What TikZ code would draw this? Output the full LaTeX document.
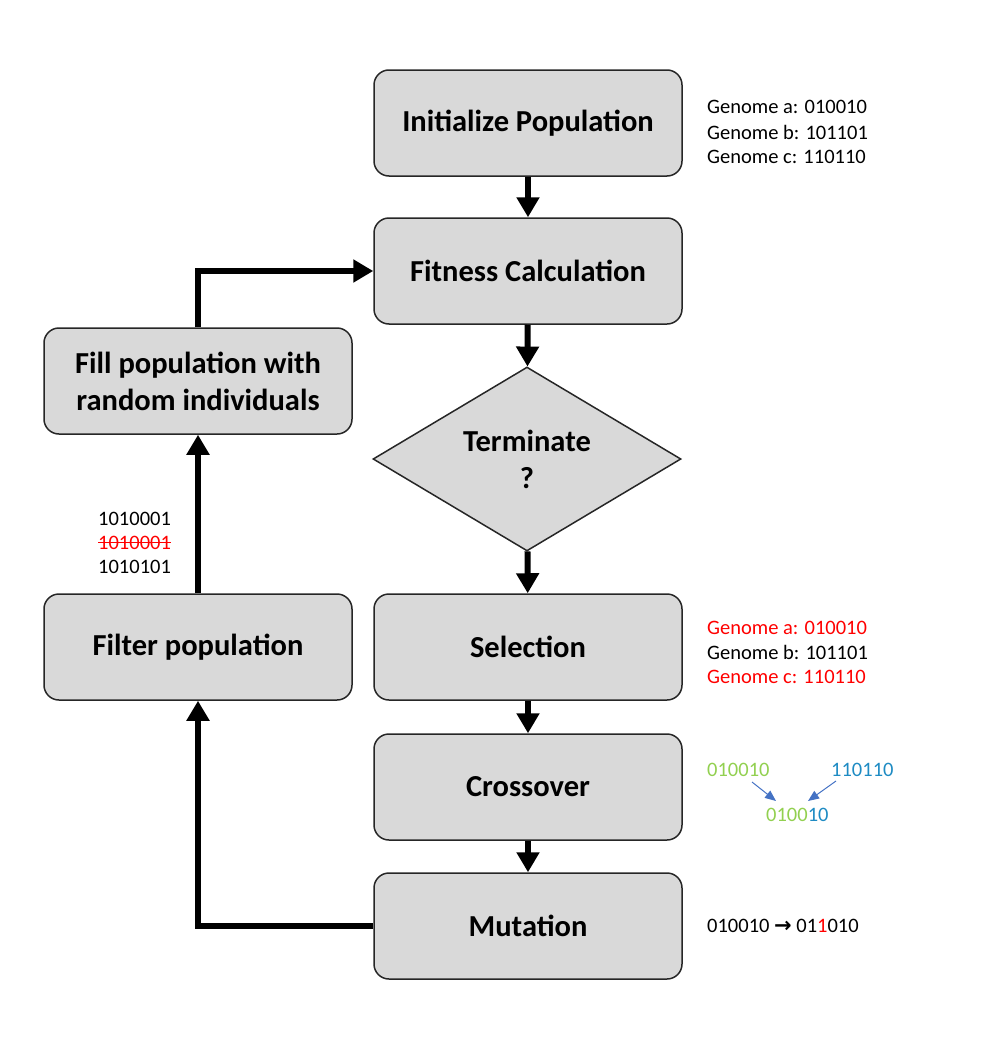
\documentclass[tikz,border=0pt]{standalone}
\usepackage{fontspec}
\setmainfont{Carlito}
\newfontfamily\arrowfont{DejaVu Sans}
\usetikzlibrary{arrows.meta,shapes.geometric}
\definecolor{boxfill}{RGB}{217,217,217}
\definecolor{gtxt}{RGB}{146,208,80}
\definecolor{btxt}{RGB}{30,139,195}
\definecolor{barr}{RGB}{68,114,196}
\definecolor{rtxt}{RGB}{255,0,0}
\tikzset{
  stepbox/.style={draw=black!85, line width=1.5pt, fill=boxfill, rounded corners=15pt,
    minimum width=308pt, minimum height=106pt, align=center, inner sep=0pt,
    font=\fontsize{30.5}{37}\selectfont\bfseries},
  decbox/.style={draw=black!85, line width=1.5pt, fill=boxfill, diamond, aspect=1.674,
    minimum width=308pt, minimum height=184pt, align=center, inner sep=0pt,
    font=\fontsize{30.5}{37}\selectfont\bfseries},
  flow/.style={line width=6pt, -{Triangle[width=22pt,length=20pt]}},
  note/.style={anchor=west, inner sep=0pt, font=\fontsize{20.5}{24}\selectfont},
  thin arr/.style={draw=barr, line width=1pt, -{Triangle[width=9pt,length=11pt]}}
}
\begin{document}
\begin{tikzpicture}[x=1pt,y=-1pt]
\useasboundingbox (0,0) rectangle (982,1060);
\node[stepbox] (init) at (528,123) {Initialize Population};
\node[stepbox] (fit) at (528,271) {Fitness Calculation};
\node[decbox] (term) at (527,459) {Terminate\\?};
\node[stepbox] (sel) at (528,647) {Selection};
\node[stepbox] (cross) at (528,787) {Crossover};
\node[stepbox] (mut) at (528,926) {Mutation};
\node[stepbox] (fill) at (198,381) {Fill population with\\random individuals};
\node[stepbox] (filt) at (198,647) {Filter population};

\draw[flow] (init) -- (fit);
\draw[flow] (fit) -- (term);
\draw[flow] (term) -- (sel);
\draw[flow] (sel) -- (cross);
\draw[flow] (cross) -- (mut);
\draw[flow] (mut.west) -| (filt.south);
\draw[flow] (filt.north) -- (fill.south);
\draw[flow] (fill.north) |- (fit.west);

\node[note] (ga) at (707,107) {Genome a: 010010};
\node[note] (gb) at (707,132) {Genome b: 101101};
\node[note] (gc) at (707,157) {Genome c: 110110};

\node[note, text=rtxt] (sa) at (707,628) {Genome a: 010010};
\node[note] (sb) at (707,652) {Genome b: 101101};
\node[note, text=rtxt] (sc) at (707,677) {Genome c: 110110};

\node[note, text=gtxt] (c1) at (707,770) {010010};
\node[note, text=btxt] (c2) at (831,770) {110110};
\node[note] (c3) at (766,815) {\textcolor{gtxt}{0100}\textcolor{btxt}{10}};
\coordinate (c1s) at (752,782);
\coordinate (c1e) at (776,801);
\coordinate (c2s) at (836,781);
\coordinate (c2e) at (808,801);
\draw[thin arr] (c1s) -- (c1e);
\draw[thin arr] (c2s) -- (c2e);

\node[note] (m) at (707,926) {010010 {\arrowfont\bfseries\fontsize{21}{24}\selectfont→} 01\textcolor{rtxt}{1}010};

\node[note] (f1) at (98,519) {1010001};
\node[note, text=rtxt] (f2) at (98,543) {1010001};
\draw[rtxt, line width=1.2pt] ([yshift=0.5pt]f2.west) -- ([yshift=0.5pt]f2.east);
\node[note] (f3) at (98,567) {1010101};
\end{tikzpicture}
\end{document}
